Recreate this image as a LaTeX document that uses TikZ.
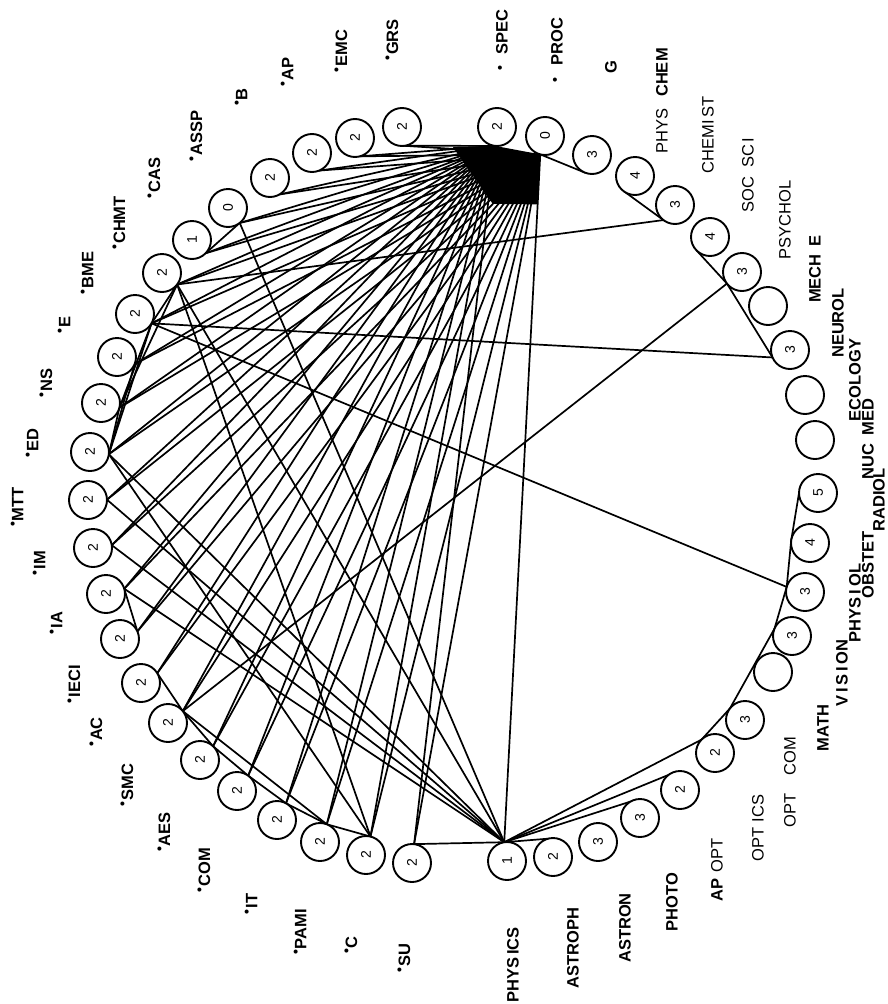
\documentclass[tikz,border=0pt]{standalone}
\usepackage{fontspec}
\setmainfont{Liberation Sans}
\usetikzlibrary{calc}
\pgfdeclarelayer{bg}
\pgfsetlayers{bg,main}
\newcommand\idot{\raisebox{6pt}{\fontsize{14}{14}\selectfont\textbullet}\hspace{1pt}}
\newcommand\sdot{\raisebox{3pt}{\fontsize{14}{14}\selectfont\textbullet}\hspace{12pt}}
\newcommand\ringr{19pt}
\begin{document}
\begin{tikzpicture}[x=1pt,y=-1pt,
  ring/.style={circle,draw,line width=1.9pt,minimum size=38pt,inner sep=0pt,fill=white,rotate=90,font=\fontsize{14}{14}\selectfont},
  lab/.style={rotate=90,inner sep=0pt,font=\bfseries\fontsize{16.5}{18}\selectfont},
  labm/.style={rotate=90,inner sep=0pt,font=\fontsize{16.5}{18}\selectfont},
  link/.style={line width=1.7pt,line cap=round}]
\path[use as bounding box] (0,0) rectangle (887,1004);
\clip (0,0) rectangle (887,1004);
\coordinate (O) at (453,494);
% ring of circles
\foreach \n/\x/\y/\d in {
  GRS/402/127/2, EMC/355/138/2, AP/312/153/2, B/270/178/2, ASSP/228/208/0,
  CAS/192/240/1, CHMT/162/273/2, BME/135/314/2, E/117/357/2, NS/101/403/2,
  ED/90/452/2, MTT/88/500/2, IM/93/548/2, IA/106/594/2, IECI/120/639/2,
  AC/141/683/2, SMC/168/723/2, AES/200/760/2, COM/237/791/2, IT/277/820/2,
  PAMI/320/842/2, C/366/855/2, SU/412/863/2,
  SPEC/497/127/2, PROC/545/136/0, G/592/155/3, PCHEM/635/176/4, CHEMIST/675/205/3,
  SOCSCI/710/237/4, PSYCHOL/742/272/3, MECHE/768/306/{}, NEUROL/790/350/3,
  ECOLOGY/805/395/{}, NUCMED/815/440/{}, RADIOL/818/493/5, OBSTET/810/543/4,
  PHYSIOL/805/592/3, VISION/792/636/3, MATH/773/672/{}, OPTCOM/745/720/3,
  OPTICS/715/753/2, APOPT/680/790/2, PHOTO/640/818/3, ASTRON/598/842/3,
  ASTROPH/553/857/2, PHYSICS/507/861/1}{
  \node[ring] (\n) at (\x,\y) {\d};
  \coordinate (\n-a) at ($(\n)!\ringr!(O)$);
}
% connectors
\begin{pgfonlayer}{bg}
\fill ($(SPEC-a)+(-42,1)$) -- (SPEC-a) -- (PROC-a) -- ($(PROC-a)+(-3,50)$)
  -- ($(SPEC-a)+(-2,58)$) -- cycle;
\foreach \s in {GRS,EMC,AP,B,ASSP,CAS,CHMT,BME,E,NS,ED,MTT,IM,IA,IECI,AC,SMC,AES,COM,IT,PAMI,C,SU}{
  \draw[link] (\s-a) -- (SPEC-a);
  \draw[link] (\s-a) -- (PROC-a);
}
\foreach \a/\b in {PROC/PHYSICS, SU/PHYSICS, ASSP/PHYSICS, CHMT/PHYSICS, ED/PHYSICS,
  MTT/PHYSICS, IM/PHYSICS, IA/PHYSICS, PHYSICS/ASTROPH, PHYSICS/PHOTO, PHYSICS/APOPT,
  PHYSICS/OPTICS, OPTICS/OPTCOM, OPTCOM/VISION, VISION/PHYSIOL, PHYSIOL/OBSTET,
  OBSTET/RADIOL, PHYSIOL/BME, NEUROL/BME, PSYCHOL/NEUROL, PSYCHOL/SMC, SOCSCI/PSYCHOL,
  PCHEM/CHEMIST, CHEMIST/CHMT, PROC/G, CAS/ASSP, BME/CHMT, CHMT/C, ED/C, IA/IECI,
  AC/SMC, SMC/AES, AES/COM, COM/IT, IT/PAMI, PAMI/C, SMC/PAMI, ED/NS, ED/E, ED/BME,
  NS/BME, NS/CHMT}{
  \draw[link] (\a-a) -- (\b-a);
}
\end{pgfonlayer}
% labels, left
\node[lab] (GRS-l) at (392,40) {\idot GRS};
\node[lab] (EMC-l) at (341,51) {\idot EMC};
\node[lab] (AP-l) at (287,72) {\idot AP};
\node[lab] (B-l) at (241,97) {\idot B};
\node[lab] (ASSP-l) at (196,136) {\idot ASSP};
\node[lab] (CAS-l) at (154,178) {\idot CAS};
\node[lab] (CHMT-l) at (119,223) {\idot CHMT};
\node[lab] (BME-l) at (87,273) {\idot BME};
\node[lab] (E-l) at (64,325) {\idot E};
\node[lab] (NS-l) at (46,383) {\idot NS};
\node[lab] (ED-l) at (32,443) {\idot ED};
\node[lab] (MTT-l) at (17,507) {\idot MTT};
\node[lab] (IM-l) at (39,563) {\idot IM};
\node[lab] (IA-l) at (56,623) {\idot IA};
\node[lab] (IECI-l) at (74,684) {\idot IECI};
\node[lab] (AC-l) at (96,732) {\idot AC};
\node[lab] (SMC-l) at (127,785) {\idot SMC};
\node[lab] (AES-l) at (164,832) {\idot AES};
\node[lab] (COM-l) at (204,870) {\idot COM};
\node[lab] (IT-l) at (251,904) {\idot IT};
\node[lab] (PAMI-l) at (300,932) {\idot PAMI};
\node[lab] (C-l) at (351,945) {\idot C};
\node[lab] (SU-l) at (404,958) {\idot SU};
% labels, right
\node[lab] (SPEC-l) at (502,40) {\sdot SPEC};
\node[lab] (PROC-l) at (557,50) {\sdot PROC};
\node[lab] (G-l) at (611,67) {G};
\node[lab] (PCHEM-l) at (662,101) {{\mdseries PHYS}\hspace{12pt}CHEM};
\node[labm] (CHEMIST-l) at (708,135) {CHEMI\hspace{2pt}ST};
\node[labm] (SOCSCI-l) at (748,175) {SOC\hspace{9pt}SC\hspace{2pt}I};
\node[labm] (PSYCHOL-l) at (785,220) {PSYCHOL};
\node[lab] (MECHE-l) at (815,269) {MECH\hspace{8pt}E};
\node[lab] (NEUROL-l) at (838,323) {NEUROL};
\node[lab] (ECOLOGY-l) at (855,380) {ECOLOGY};
\node[lab] (NUCMED-l) at (868,439) {NUC\hspace{8pt}MED};
\node[lab] (RADIOL-l) at (879,500) {RADIOL};
\node[lab] (OBSTET-l) at (868,565) {OBSTET};
\node[lab] (PHYSIOL-l) at (855,603) {PHYS\hspace{3pt}I\hspace{3pt}OL};
\node[lab] (VISION-l) at (842,673) {V\,I\,S\,I\,ON};
\node[lab] (MATH-l) at (823,728) {MATH};
\node[labm] (OPTCOM-l) at (790,782) {OPT\hspace{18pt}COM};
\node[labm] (OPTICS-l) at (758,828) {OPT\hspace{5pt}ICS};
\node[lab] (APOPT-l) at (717,870) {AP\hspace{6pt}{\mdseries OPT}};
\node[lab] (PHOTO-l) at (672,902) {PHOTO};
\node[lab] (ASTRON-l) at (625,928) {ASTRON};
\node[lab] (ASTROPH-l) at (573,948) {ASTROPH};
\node[lab] (PHYSICS-l) at (513,965) {PHYS\hspace{3pt}ICS};
\end{tikzpicture}
\end{document}
